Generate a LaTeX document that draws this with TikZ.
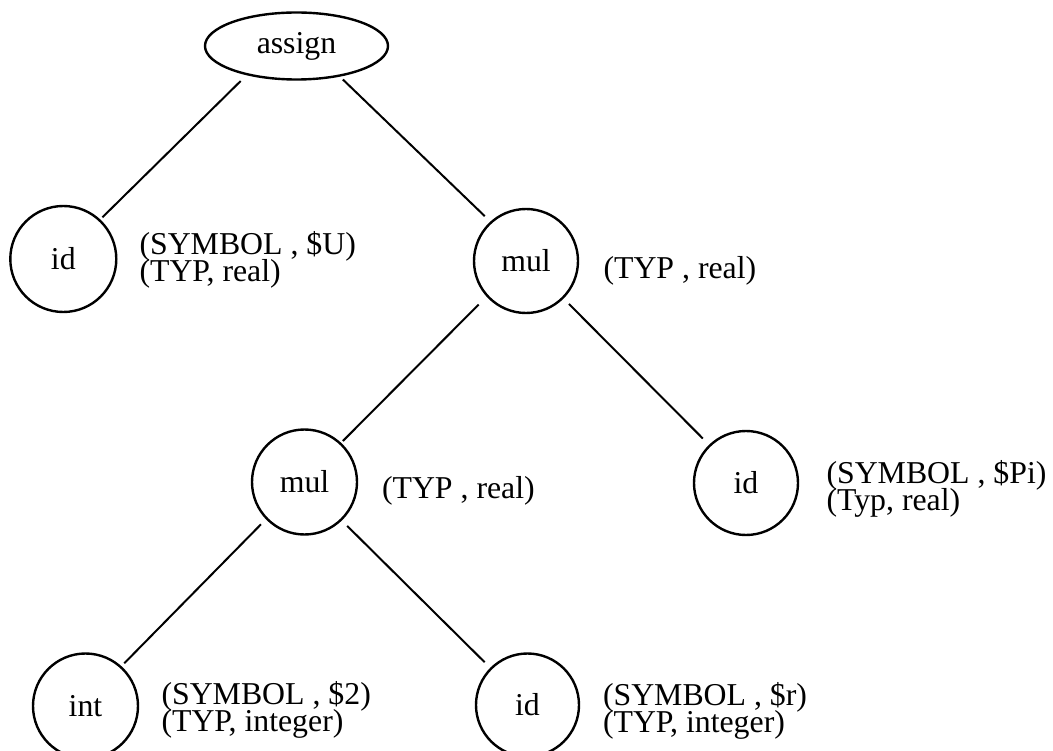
\documentclass[tikz,border=0pt]{standalone}
\usepackage{fontspec}
\setmainfont{Liberation Serif}
\usetikzlibrary{shapes.geometric}

\newcommand{\treefont}{\fontsize{31.8}{26.7}\selectfont}

\tikzset{
  treenode/.style={circle, draw, line width=2.4pt, minimum size=104pt,
                   inner sep=0pt, outer sep=0pt, font=\treefont},
  rootnode/.style={ellipse, draw, line width=2.4pt, minimum width=183pt,
                   minimum height=67pt, inner sep=0pt, outer sep=0pt, font=\treefont},
  attr/.style={anchor=base west, inner sep=0pt, outer sep=0pt, font=\treefont},
  edge/.style={line width=2pt},
}

\begin{document}
\begin{tikzpicture}[x=1pt,y=-1pt]
  \fill[white] (0,0) rectangle (1053,751);
  \useasboundingbox (0,0) rectangle (1053,751);

  % tree nodes
  \node[rootnode] (assign) at (296.5,46) {assign};
  \node[treenode, minimum size=106pt] (idL) at (63.3,259) {id};
  \node[treenode] (mulA) at (526,261) {mul};
  \node[treenode, minimum size=105pt] (mulB) at (304.5,482) {mul};
  \node[treenode] (idR) at (746,483) {id};
  \node[treenode, minimum size=105pt] (intN) at (85.5,706) {int};
  \node[treenode, minimum size=103pt] (idB) at (527.5,705) {id};

  % attribute lists
  \node[attr] (idLa) at (139.5,255) {(SYMBOL , \$U)};
  \node[attr] (idLb) at (139.5,282) {(TYP, real)};
  \node[attr] (mulAa) at (603.5,279) {(TYP , real)};
  \node[attr] (mulBa) at (382,498) {(TYP , real)};
  \node[attr] (idRa) at (826.5,483) {(SYMBOL , \$Pi)};
  \node[attr] (idRb) at (826.5,510) {(Typ, real)};
  \node[attr] (intNa) at (161.5,704) {(SYMBOL , \$2)};
  \node[attr] (intNb) at (161.5,731) {(TYP, integer)};
  \node[attr] (idBa) at (603,705) {(SYMBOL , \$r)};
  \node[attr] (idBb) at (603,732) {(TYP, integer)};

  % edges
  \draw[edge, shorten <=9.6pt, shorten >=4.1pt] (assign.210) -- (idL.47);
  \draw[edge, shorten <=5.5pt, shorten >=8.9pt] (assign.325) -- (mulA.132);
  \draw[edge, shorten <=12.4pt, shorten >=3.7pt] (mulA.222) -- (mulB.47);
  \draw[edge, shorten <=8.8pt, shorten >=10pt] (mulA.-45) -- (idR.134);
  \draw[edge, shorten <=8.2pt, shorten >=5.2pt] (mulB.224) -- (intN.48);
  \draw[edge, shorten <=8.7pt, shorten >=9pt] (mulB.-46) -- (idB.135);
\end{tikzpicture}
\end{document}
